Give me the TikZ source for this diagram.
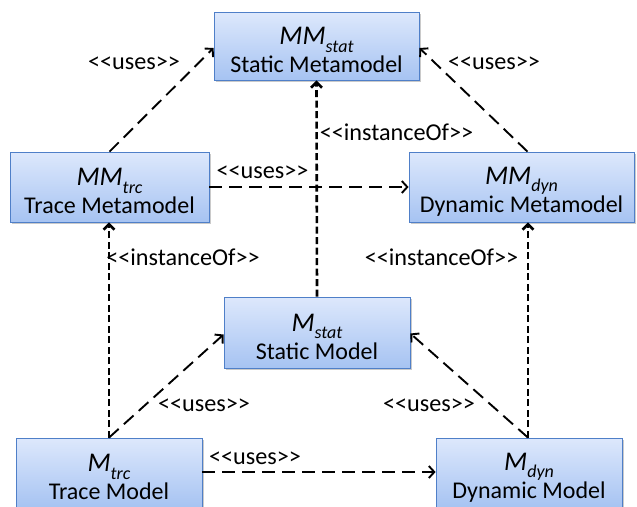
\documentclass[tikz,border=0pt]{standalone}
\usepackage{fontspec}
\setmainfont{Carlito}
\usetikzlibrary{arrows.meta,shadows,calc}
\newcommand{\sub}[1]{\raisebox{-0.3em}{\fontsize{18}{18}\selectfont\itshape #1}}
\newcommand{\st}[1]{<\kern0pt<#1>\kern0pt>}
\newcommand{\bx}[3]{\rule{0pt}{26pt}{\fontsize{27}{28}\selectfont\textit{#1}}\sub{#2}\\#3}
\tikzset{
  box/.style={draw=boxborder, line width=0.8pt, top color=boxtop, bottom color=boxbot,
    align=center, inner sep=0pt, font=\fontsize{24}{28}\selectfont,
    drop shadow={shadow xshift=1.5pt, shadow yshift=-1.5pt, opacity=0.35, fill=black!60}},
  lbl/.style={font=\fontsize{24.2}{26}\selectfont, inner sep=0pt},
  uses/.style={line width=1.9pt, dash pattern=on 13pt off 7pt, -{Straight Barb[length=5.5pt,width=12pt]}},
  inst/.style={line width=2.6pt, dash pattern=on 7pt off 3.5pt, -{Straight Barb[length=5.5pt,width=11pt]}},
}
\definecolor{boxtop}{HTML}{DDE8FC}
\definecolor{boxbot}{HTML}{A6C3F2}
\definecolor{boxborder}{HTML}{4F7FC8}
\begin{document}
\begin{tikzpicture}[x=1pt,y=-1pt]
\useasboundingbox (0,0) rectangle (637,506);
\node[box, minimum width=205pt, minimum height=68pt] (MMstat) at (316.5,46) {\bx{MM}{stat}{Static Metamodel}};
\node[box, minimum width=199pt, minimum height=70pt] (MMtrc) at (109.5,187) {\bx{MM}{trc}{Trace Metamodel}};
\node[box, minimum width=225pt, minimum height=70pt] (MMdyn) at (521.5,187) {\bx{MM}{dyn}{Dynamic Metamodel}};
\node[box, minimum width=186pt, minimum height=71pt] (Mstat) at (317,332.5) {\bx{M}{stat}{Static Model}};
\node[box, minimum width=186pt, minimum height=70pt] (Mtrc) at (109,473) {\bx{M}{trc}{Trace Model}};
\node[box, minimum width=186pt, minimum height=70pt] (Mdyn) at (529,473) {\bx{M}{dyn}{Dynamic Model}};

\coordinate (dt) at ($(MMdyn.north)+(6,0)$);
\coordinate (dn) at ($(Mdyn.north)+(-1,0)$);
\coordinate (dm) at (dn |- MMdyn.south);
\coordinate (tm) at (Mtrc.north |- MMtrc.south);
\coordinate (sw) at ($(Mstat.west)+(0,2)$);
\coordinate (se) at ($(Mstat.east)+(0,1)$);
\coordinate (tw) at ($(MMstat.west)+(0,2)$);
\coordinate (te) at ($(MMstat.east)+(0,2)$);
\coordinate (ba) at (Mtrc.east |- 0,472);
\coordinate (bb) at (Mdyn.west |- 0,472);
\draw[uses] (MMtrc.north) -- (tw);
\draw[uses] (dt) -- (te);
\draw[uses] (MMtrc.east) -- (MMdyn.west);
\draw[inst] (Mstat.north) -- (MMstat.south);
\draw[inst] (Mtrc.north) -- (tm);
\draw[inst] (dn) -- (dm);
\draw[uses] (Mtrc.north) -- (sw);
\draw[uses] (dn) -- (se);
\draw[uses] (ba) -- (bb);

\node[lbl] (l1) at (134,63) {\st{uses}};
\node[lbl] (l2) at (494,63) {\st{uses}};
\node[lbl] (l3) at (396.5,132) {\st{instanceOf}};
\node[lbl] (l4) at (262.5,172) {\st{uses}};
\node[lbl] (l5) at (183,257) {\st{instanceOf}};
\node[lbl] (l6) at (441.5,257) {\st{instanceOf}};
\node[lbl] (l7) at (204,405) {\st{uses}};
\node[lbl] (l8) at (429,405) {\st{uses}};
\node[lbl] (l9) at (255,458) {\st{uses}};
\end{tikzpicture}
\end{document}
